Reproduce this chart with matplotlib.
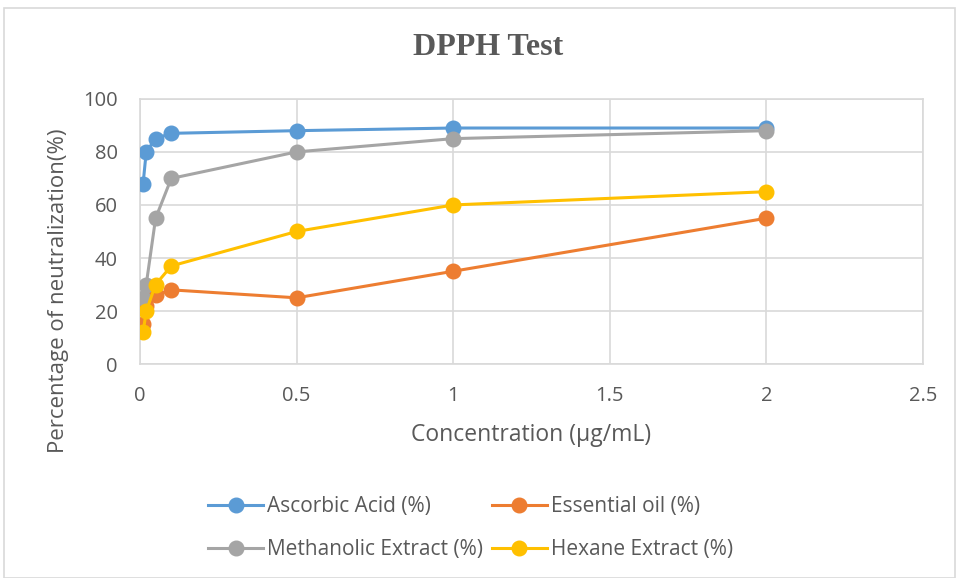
import matplotlib.pyplot as plt

# concentrations (µg/mL)
conc = [0.01, 0.02, 0.05, 0.1, 0.5, 1, 2]

ascorbic = [68, 80, 85, 87, 88, 89, 89]
essential_oil = [15, 22, 26, 28, 25, 35, 55]
methanolic = [25, 30, 55, 70, 80, 85, 88]
hexane = [12, 20, 30, 37, 50, 60, 65]

series = [
    ("Ascorbic Acid (%)", ascorbic, "#5B9BD5"),
    ("Essential oil (%)", essential_oil, "#ED7D31"),
    ("Methanolic Extract (%)", methanolic, "#A5A5A5"),
    ("Hexane Extract (%)", hexane, "#FFC000"),
]

plt.rcParams['font.family'] = ['Open Sans', 'DejaVu Sans']
text_col = "#595959"
grid_col = "#D9D9D9"

fig = plt.figure(figsize=(9.56, 5.78), dpi=100)
ax = fig.add_axes([0.1464, 0.370, 0.819, 0.459])

# outer chart border
fig.patches.append(plt.Rectangle((0.004, 0.0), 0.995, 0.986, transform=fig.transFigure,
                                 fill=False, edgecolor=grid_col, linewidth=1.2))

lines = {}
for name, vals, col in series:
    lines[name], = ax.plot(conc, vals, color=col, linewidth=2.2, marker='o', markersize=10.5,
                           label=name, zorder=3)

ax.set_xlim(0, 2.5)
ax.set_ylim(0, 100)
ax.set_xticks([0, 0.5, 1, 1.5, 2, 2.5])
ax.set_xticklabels(["0", "0.5", "1", "1.5", "2", "2.5"])
ax.set_yticks(range(0, 101, 20))
ax.grid(True, color=grid_col, linewidth=1.2, zorder=0)
for s in ax.spines.values():
    s.set_color(grid_col)
    s.set_linewidth(1.2)
ax.tick_params(length=0, labelsize=14.5, labelcolor=text_col, pad=16)

ax.set_xlabel("Concentration (µg/mL)", fontsize=16.5, color=text_col, labelpad=12)
ax.set_ylabel("Percentage of neutralization(%)", fontsize=16, color=text_col)
ax.yaxis.set_label_coords(-0.09, 0.276)

fig.text(0.511, 0.918, "DPPH Test", ha='center', va='center',
         family=['Liberation Serif'], fontweight='bold', fontsize=23, color=text_col)

# legend filled row by row: matplotlib fills columns, so reorder
order = ["Ascorbic Acid (%)", "Methanolic Extract (%)", "Essential oil (%)", "Hexane Extract (%)"]
leg = fig.legend([lines[n] for n in order], order, loc='center left',
                 bbox_to_anchor=(0.2176, 0.0865), borderpad=0, borderaxespad=0,
                 ncol=2, frameon=False, fontsize=15, labelcolor=text_col, handlelength=2.65,
                 handletextpad=0.2, columnspacing=0.4, labelspacing=1.05)

fig.savefig("out.png", dpi=100)
